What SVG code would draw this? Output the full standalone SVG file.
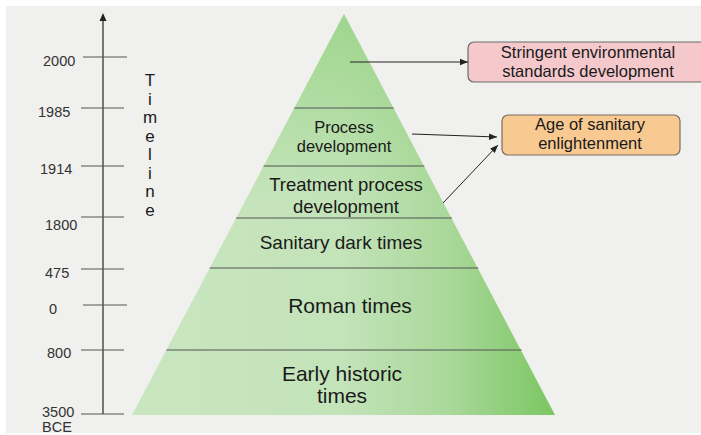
<svg xmlns="http://www.w3.org/2000/svg" width="701" height="435" viewBox="0 0 701 435">
  <defs>
    <linearGradient id="pyr" gradientUnits="userSpaceOnUse" x1="132" y1="0" x2="555" y2="0">
      <stop offset="0" stop-color="#c9e6c0"/>
      <stop offset="0.5" stop-color="#c3e3b9"/>
      <stop offset="0.75" stop-color="#a9d89a"/>
      <stop offset="1" stop-color="#7cc662"/>
    </linearGradient>
    <linearGradient id="pyrTop" gradientUnits="userSpaceOnUse" x1="0" y1="14" x2="0" y2="200">
      <stop offset="0" stop-color="#8fd07a" stop-opacity="0.7"/>
      <stop offset="1" stop-color="#8fd07a" stop-opacity="0"/>
    </linearGradient>
    <marker id="ah" viewBox="0 0 8 8" refX="8" refY="4" markerWidth="8" markerHeight="8" markerUnits="userSpaceOnUse" orient="auto">
      <path d="M0,0.8 L8,4 L0,7.2 Z" fill="#222"/>
    </marker>
  </defs>
  <style>
    text { font-family: "Liberation Sans", Arial, sans-serif; fill: #1a1a1a; }
    .yr { font-size: 14.5px; fill: #333; }
    .tick { stroke: #555; stroke-width: 1.2; }
    .div { stroke: #555; stroke-width: 1.2; }
    .lbl { text-anchor: middle; }
    .conn { stroke: #222; stroke-width: 1; fill: none; marker-end: url(#ah); }
  </style>
  <rect x="0" y="0" width="701" height="435" fill="#ffffff"/>
  <rect x="6" y="6" width="695" height="427" fill="#f0f0ee"/>

  <g id="timeline">
    <line x1="103" y1="18" x2="103" y2="414" stroke="#333" stroke-width="1.3"/>
    <path d="M103,13 L99.5,21 L106.5,21 Z" fill="#222"/>
    <line class="tick" x1="83" y1="57" x2="127" y2="57"/>
    <line class="tick" x1="81" y1="108" x2="124" y2="108"/>
    <line class="tick" x1="81" y1="166" x2="124" y2="166"/>
    <line class="tick" x1="81" y1="217" x2="124" y2="217"/>
    <line class="tick" x1="81" y1="269" x2="124" y2="269"/>
    <line class="tick" x1="83" y1="305" x2="127" y2="305"/>
    <line class="tick" x1="81" y1="350" x2="124" y2="350"/>
    <line class="tick" x1="81" y1="414" x2="124" y2="414"/>
    <text class="yr" x="43" y="66">2000</text>
    <text class="yr" x="38" y="117">1985</text>
    <text class="yr" x="40" y="174">1914</text>
    <text class="yr" x="45" y="230">1800</text>
    <text class="yr" x="45" y="278">475</text>
    <text class="yr" x="49" y="314">0</text>
    <text class="yr" x="47" y="358">800</text>
    <text class="yr" x="42" y="417">3500</text>
    <text class="yr" x="42" y="432">BCE</text>
    <text x="150" y="86" font-size="17" text-anchor="middle">
      <tspan x="150" y="86">T</tspan><tspan x="150" y="104.5">i</tspan><tspan x="150" y="123">m</tspan><tspan x="150" y="141.5">e</tspan><tspan x="150" y="160">l</tspan><tspan x="150" y="178.5">i</tspan><tspan x="150" y="197">n</tspan><tspan x="150" y="215.5">e</tspan>
    </text>
  </g>

  <g id="pyramid">
    <polygon points="344,14 555,415 132,415" fill="url(#pyr)"/>
    <polygon points="344,14 555,415 132,415" fill="url(#pyrTop)"/>
    <line class="div" x1="294.3" y1="108" x2="393.7" y2="108"/>
    <line class="div" x1="263.6" y1="166" x2="424.4" y2="166"/>
    <line class="div" x1="236.1" y1="218" x2="451.9" y2="218"/>
    <line class="div" x1="209.7" y1="268" x2="478.3" y2="268"/>
    <line class="div" x1="166.4" y1="350" x2="521.6" y2="350"/>
  </g>

  <g id="process-development">
    <text class="lbl" x="344" y="133" font-size="16.5">Process</text>
    <text class="lbl" x="344" y="152" font-size="16.5">development</text>
  </g>
  <g id="treatment-process-development">
    <text class="lbl" x="346" y="191" font-size="18.5">Treatment process</text>
    <text class="lbl" x="346" y="213" font-size="18.5">development</text>
  </g>
  <g id="sanitary-dark-times">
    <text class="lbl" x="341" y="249" font-size="19">Sanitary dark times</text>
  </g>
  <g id="roman-times">
    <text class="lbl" x="350" y="313" font-size="21">Roman times</text>
  </g>
  <g id="early-historic-times">
    <text class="lbl" x="342" y="381" font-size="21">Early historic</text>
    <text class="lbl" x="342" y="403" font-size="21">times</text>
  </g>

  <g id="stringent-standards">
    <rect x="468" y="42" width="240" height="40" rx="6" fill="#f5c8cc" stroke="#6a6a6a" stroke-width="1.2"/>
    <text class="lbl" x="588" y="58" font-size="16.5">Stringent environmental</text>
    <text class="lbl" x="588" y="77" font-size="16.5">standards development</text>
  </g>
  <g id="sanitary-enlightenment">
    <rect x="502" y="115" width="178" height="40" rx="6" fill="#f8c991" stroke="#7a6e62" stroke-width="1.2"/>
    <text class="lbl" x="590" y="130" font-size="16.5">Age of sanitary</text>
    <text class="lbl" x="590" y="149" font-size="16.5">enlightenment</text>
  </g>

  <g id="connectors">
    <line class="conn" x1="350" y1="62" x2="468" y2="62"/>
    <line class="conn" x1="412" y1="134" x2="497" y2="137"/>
    <line class="conn" x1="443" y1="203" x2="498" y2="145"/>
  </g>
</svg>
